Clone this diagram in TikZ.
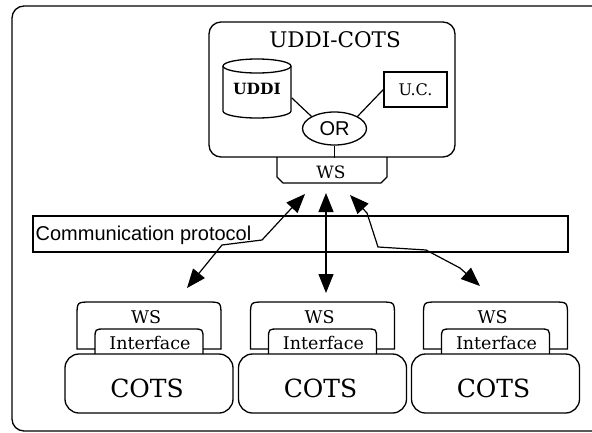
\documentclass[tikz,border=0pt]{standalone}
\usepackage{fontspec}
\setmainfont{DejaVu Serif}
\newfontfamily\arialf{Liberation Sans}
\usetikzlibrary{arrows.meta,shapes.geometric}
\begin{document}
\begin{tikzpicture}[x=1pt,y=-1pt, line width=1.3pt,
  lbl/.style={inner sep=0pt, anchor=base},
  link/.style={line width=1.2pt},
  biarrow/.style={line width=1.2pt, {Triangle[length=19pt,width=15pt]}-{Triangle[length=19pt,width=15pt]}},
  cotsbox/.style={draw, rectangle, rounded corners=14pt, minimum width=168pt, minimum height=59pt, inner sep=0pt},
]
\useasboundingbox (0,0) rectangle (592,432);
\clip (0,0) rectangle (592,432);
% outer frame
\draw[rounded corners=12pt] (12,6) rectangle (640,431);

% UDDI-COTS box
\node[draw, rectangle, rounded corners=12pt, minimum width=246pt, minimum height=135pt, inner sep=0pt] (uddicots) at (332,89.5) {};
\node[lbl] (title) at (335,47) {\fontsize{21.5}{24}\selectfont UDDI-COTS};

% cylinder UDDI
\draw (223,66) -- (223,111) arc[start angle=180, end angle=0, x radius=34, y radius=7] -- (291,66);
\draw (257,66) ellipse [x radius=34, y radius=7];
\node[inner sep=0pt, minimum width=68pt, minimum height=59pt] (uddi) at (257,88.5) {\fontsize{15.5}{18}\selectfont\bfseries UDDI};

% U.C.
\node[draw, rectangle, minimum width=63pt, minimum height=35pt, inner sep=0pt] (uc) at (415.5,89.5) {\fontsize{16}{18}\selectfont U.C.};

% OR
\node[draw, ellipse, minimum width=64pt, minimum height=33pt, inner sep=0pt] (or) at (334.5,128.5) {\arialf\fontsize{20}{22}\selectfont OR};

\draw[link] (uddi.-15) -- (or.north west);
\draw[link] (uc.west) -- (or.north east);
\draw[link] (or.south) -- (or.south |- uddicots.south);

% top WS tab
\draw (277,157) -- (277,177) -- (283,183) -- (381,183) -- (387,177) -- (387,157);
\node[lbl] (wstop) at (331,178) {\fontsize{17}{19}\selectfont WS};

% communication protocol
\node[draw, rectangle, minimum width=535pt, minimum height=36pt, inner sep=0pt] (cp) at (300.5,234) {};
\node[inner sep=0pt, anchor=base west] (cptext) at (35,240) {\arialf\fontsize{20}{22}\selectfont Communication protocol};

% lower units
\foreach \cx/\n in {149/1,322.5/2,495.5/3}{
  \draw (\cx-54,349) -- (\cx-72,349) -- (\cx-72,316) .. controls (\cx-72,302) .. (\cx-58,302) -- (\cx+58,302) .. controls (\cx+72,302) .. (\cx+72,316) -- (\cx+72,349) -- (\cx+54,349);
  \node[lbl] (ws\n) at (\cx-3,323) {\fontsize{17.5}{19}\selectfont WS};
  \draw (\cx-54,354) -- (\cx-54,339) .. controls (\cx-54,329) .. (\cx-44,329) -- (\cx+44,329) .. controls (\cx+54,329) .. (\cx+54,339) -- (\cx+54,354);
  \node[lbl] (if\n) at (\cx+1,349) {\fontsize{17.5}{19}\selectfont Interface};
  \node[cotsbox] (cots\n) at (\cx,383.5) {};
  \node[lbl] (cotst\n) at (\cx-2,397) {\fontsize{25}{27}\selectfont COTS};
}

% arrows
\coordinate (l1) at (305,194);
\coordinate (l2) at (187,288);
\coordinate (m1) at (326,193);
\coordinate (m2) at (326,293);
\coordinate (r1) at (350,195);
\coordinate (r2) at (480,286);
\draw[biarrow] (l1) -- (287,213) -- (262,240) -- (222,245) -- (l2);
\draw[biarrow] (m1) -- (m2);
\draw[biarrow] (r1) -- (367,213) -- (378,247) -- (426,250) -- (460,268) -- (r2);
\end{tikzpicture}
\end{document}
